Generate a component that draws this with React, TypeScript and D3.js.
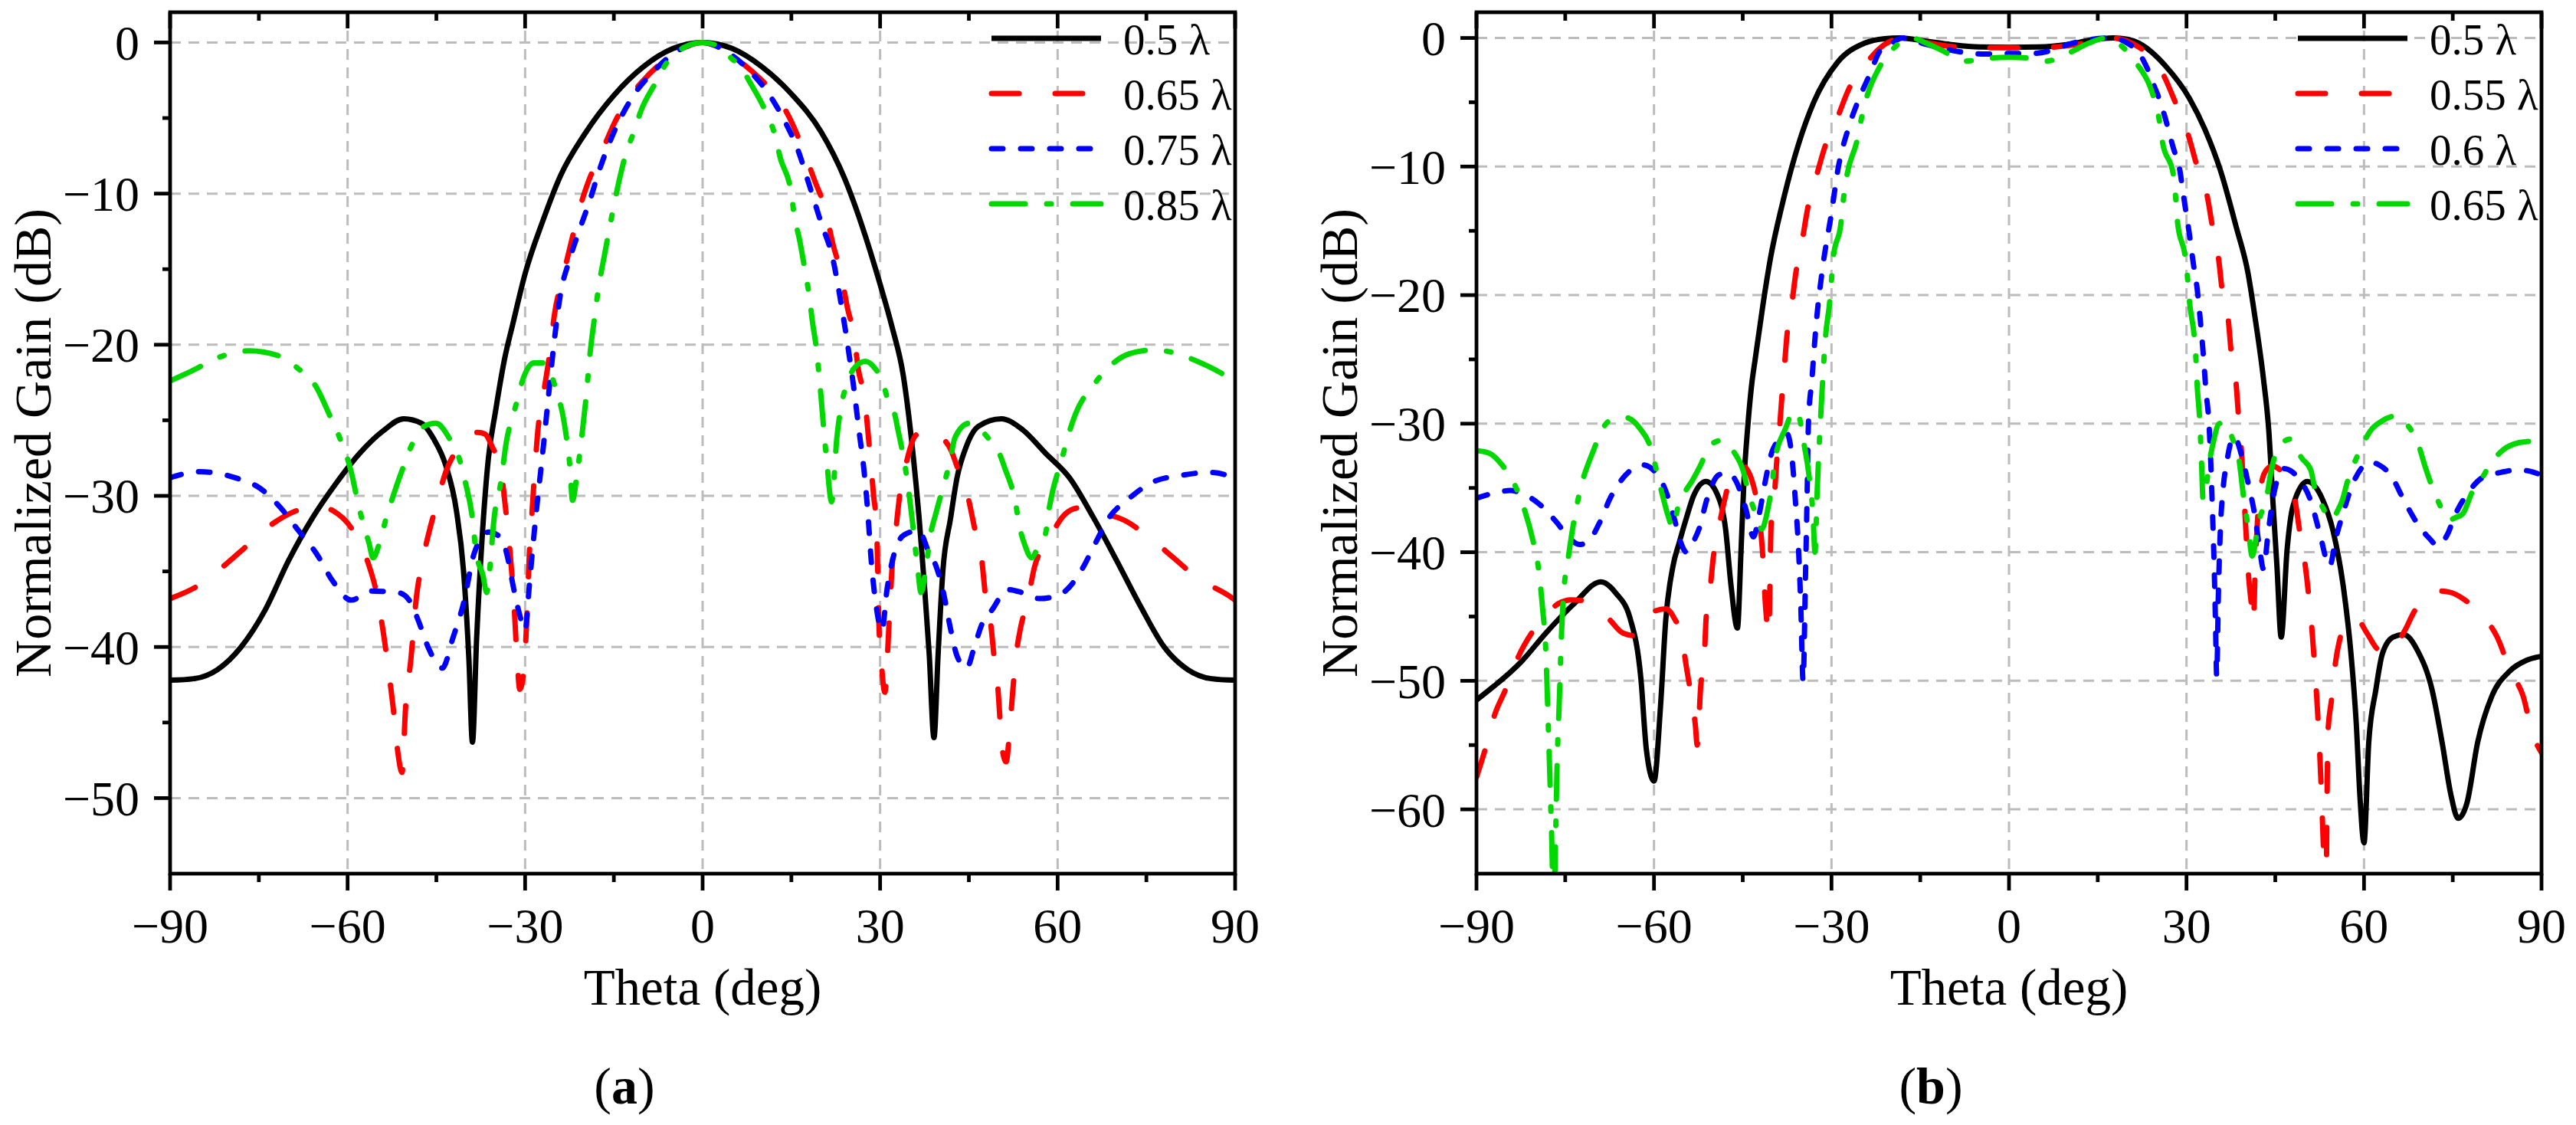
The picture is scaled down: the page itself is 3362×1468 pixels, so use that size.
import * as d3 from "d3";

type Pt = [number, number];

// ---------- panel (a) ----------
const labelsA = ["0.5 λ", "0.65 λ", "0.75 λ", "0.85 λ"];

const a050: Pt[] = [
  [-90,-42.2],[-86,-42.1],[-82,-41.5],[-78,-40.0],[-74,-37.6],[-70,-34.3],[-66,-31.5],[-62,-29.2],[-58,-27.2],
  [-54,-25.7],[-50.5,-24.9],[-47.5,-25.2],[-45.5,-26.2],[-43.4,-28],[-41.6,-31],[-40.4,-35],[-39.5,-40.8],
  [-38.9,-46.3],[-38.2,-39.5],[-37.3,-33],[-36.2,-27.5],[-35,-24.4],[-33.5,-21],[-32,-18.5],[-30,-15.3],
  [-27,-11.8],[-24,-8.8],[-20,-6.1],[-15,-3.5],[-10,-1.6],[-5,-0.4],[0,0],[5,-0.4],[10,-1.6],[15,-3.4],
  [20,-5.9],[24,-9],[27,-12.2],[30,-16],[32,-18.8],[33.9,-22],[35.5,-27],[36.6,-31.5],[37.5,-36],[38.3,-40.5],
  [39.1,-46],[39.8,-40.5],[40.6,-35],[41.9,-31.5],[43,-28.8],[44.5,-26.8],[46.6,-25.4],[50.5,-24.9],[54,-25.6],
  [58,-27.2],[62,-28.8],[66,-31.4],[70,-34.3],[74,-37.3],[78,-40],[82,-41.5],[86,-42.1],[90,-42.2],
];

const a065: Pt[] = [
  [-90,-36.8],[-85.5,-36],[-80.8,-34.6],[-77,-33.3],[-72.5,-31.8],[-68,-30.9],[-65,-30.7],[-62.4,-31],
  [-59.1,-32.3],[-56.4,-34.6],[-55.3,-36.1],[-54.1,-38.7],[-53.2,-41.2],[-52.3,-44],[-51.5,-47],[-50.8,-48.3],
  [-50.2,-44],[-49.3,-40.8],[-48.4,-36.8],[-47.5,-34.6],[-46.3,-32.5],[-45,-30.6],[-43.4,-28.4],[-41.6,-27],
  [-39.5,-26],[-38,-25.8],[-36.8,-25.9],[-35.5,-26.8],[-34.1,-28.2],[-33.4,-30.5],[-32.6,-33.5],[-31.9,-37],
  [-31.4,-40.5],[-30.9,-42.8],[-30.2,-41.5],[-29.7,-38],[-29.3,-34],[-28.9,-31.5],[-28.4,-28.5],[-27.8,-25.5],
  [-27,-23.5],[-26,-21],[-25,-17.9],[-23.6,-15.5],[-22.2,-13.2],[-20.8,-11],[-19.3,-9.2],[-17,-7.2],[-15,-5.4],
  [-12.5,-3.7],[-10,-2.5],[-5,-0.8],[0,0],[5,-0.9],[10,-2.5],[12.2,-3.4],[15.2,-5.4],[17.1,-7.2],[19,-9.2],
  [20.7,-11],[22,-13.3],[23.4,-15.3],[24.5,-17.6],[25.6,-19.4],[26.3,-21.6],[27.4,-23.6],[28,-26],[28.4,-27.7],
  [28.9,-30],[29.4,-32],[29.6,-35],[29.8,-38.5],[30.2,-41],[30.8,-43],[31.5,-38.5],[32.1,-34.3],[32.6,-32.5],
  [33.3,-30],[34.1,-28.4],[36,-26],[38,-25.6],[40,-26],[42,-27],[43.3,-28.4],[44.8,-30],[46,-32.2],[47.2,-34.3],
  [47.8,-36.6],[48.7,-38.5],[49.3,-40.8],[49.9,-42.7],[50.3,-45],[50.7,-46.9],[51.3,-47.6],[51.9,-45.5],
  [52.4,-43],[53,-40.5],[53.7,-38.8],[54.9,-37],[56.1,-34.7],[58.2,-33.1],[61.3,-31.2],[63.5,-30.8],[65.5,-31],
  [68,-31.2],[71.2,-31.6],[75,-32.6],[79.6,-34.1],[83.5,-35.4],[88.9,-36.6],[90,-36.9],
];

const a075: Pt[] = [
  [-90,-28.8],[-85,-28.4],[-79,-28.8],[-74.8,-29.5],[-71.3,-30.8],[-68.3,-32.3],[-65.3,-33.8],[-62.4,-35.7],
  [-59.4,-36.9],[-56,-36.3],[-51.5,-36.4],[-49.6,-36.9],[-48.1,-38.2],[-46.3,-40.1],[-44,-41.4],[-42.2,-39.4],
  [-40.4,-37.1],[-38.6,-33.8],[-36.2,-32.4],[-34,-32.8],[-33,-34],[-32,-36],[-30.9,-37.9],[-30,-38.9],
  [-29.3,-36],[-28.7,-33.4],[-28.1,-31],[-27.4,-28.5],[-26.8,-26.3],[-26,-23.2],[-25,-19.5],[-24,-16.6],
  [-22.6,-14.5],[-21,-12.6],[-19.1,-10.5],[-17.5,-8.5],[-15.5,-6.4],[-12,-3.7],[-8,-1.8],[-4,-0.5],[0,0],
  [4,-0.6],[8,-1.9],[12,-3.9],[14,-5.3],[16,-7],[18,-9.4],[20,-11.9],[22,-14.3],[23.5,-17.5],[24.7,-20.5],
  [25.6,-23],[26.4,-25.6],[27.3,-28.4],[27.9,-31],[28.5,-34.3],[29.3,-37.2],[30.3,-38.9],[31.2,-36.1],
  [32.4,-33.8],[34,-32.6],[36.5,-32.3],[38.3,-33.8],[39.5,-34.7],[40.7,-36.4],[41.9,-38.8],[43,-40.6],
  [44.6,-41.4],[46,-39.9],[47.2,-38.5],[49,-37.5],[51.5,-36.2],[54,-36.4],[57,-36.8],[60.5,-36.5],[63.9,-35],
  [66.3,-33.2],[68.6,-31.5],[72,-30.2],[76,-29.1],[80.8,-28.65],[85.8,-28.45],[90,-28.8],
];

const a085: Pt[] = [
  [-90,-22.4],[-86.7,-21.8],[-80.8,-20.7],[-76.6,-20.4],[-71.9,-20.7],[-68.3,-21.6],[-65.3,-22.8],[-63,-24.7],
  [-61.2,-26.3],[-59.4,-28.4],[-58.5,-30],[-57.6,-31.5],[-56.4,-33.1],[-55.7,-34.1],[-54.6,-33.1],[-53.5,-31.5],
  [-52.3,-30],[-50.5,-28],[-49,-26.5],[-47.5,-25.5],[-45.1,-25.2],[-42.8,-26.2],[-41,-27.7],[-40.1,-29.1],
  [-38.9,-31.5],[-38.3,-33.7],[-37.1,-35.3],[-36.5,-36.4],[-35.9,-34.5],[-35.3,-31.7],[-34.1,-29.1],
  [-33.2,-26.5],[-31.7,-24.2],[-30.2,-22.1],[-28.5,-21.2],[-26.7,-21.2],[-24.9,-22.8],[-23.3,-25.4],
  [-22.4,-28.2],[-22,-30.3],[-21.2,-28.5],[-20.4,-26],[-19.7,-23.5],[-19,-20.5],[-18.2,-18],[-17.5,-16],
  [-16.7,-14.3],[-15.5,-11.8],[-14.2,-9.3],[-13,-7.4],[-11.5,-5.8],[-10.5,-4.6],[-8,-2.7],[-6,-1.3],[-3,-0.3],
  [0,0],[3,-0.3],[5,-1.1],[6.3,-1.5],[7.8,-2.5],[10.8,-4.7],[12.2,-6.1],[13.1,-7.6],[15,-10],[15.5,-11.5],
  [16.3,-12.9],[17.4,-15.3],[18,-16.7],[18.5,-18.3],[19.3,-20.5],[19.8,-22.5],[20.5,-25.7],[21,-27.8],
  [21.8,-30.4],[22.7,-26.1],[23.4,-24.1],[24.5,-22.5],[25.5,-21.6],[27.5,-21.1],[29.2,-21.6],[30.4,-22.4],
  [31.5,-23.9],[32.4,-24.5],[33,-25.6],[34.2,-28],[34.8,-29.6],[35.4,-31.5],[35.9,-33.3],[36.4,-35],
  [36.9,-36.4],[37.9,-34.3],[38.5,-32.6],[39.4,-31.2],[41.8,-27.7],[42.7,-26.1],[45,-25.2],[46.6,-25.5],
  [49.3,-26.7],[49.9,-27],[51.1,-28.2],[52.9,-30.5],[53.5,-31.9],[54.5,-33.3],[55.6,-34.1],[57,-33.1],
  [57.9,-32.6],[58.5,-31],[60.9,-27.3],[61.8,-26],[63,-24.6],[66.2,-22.6],[68.6,-21.5],[72.1,-20.6],
  [76,-20.35],[78,-20.4],[81.7,-20.8],[85.3,-21.4],[90,-22.4],
];

// ---------- panel (b) ----------
const labelsB = ["0.5 λ", "0.55 λ", "0.6 λ", "0.65 λ"];

const b050: Pt[] = [
  [-90,-51.5],[-87,-50.4],[-84.2,-49.3],[-82.4,-48.5],[-78.3,-46.3],[-73.5,-44],[-69,-42.3],[-66.4,-43.2],
  [-64,-45.2],[-62.2,-49.9],[-61.3,-55.3],[-60,-57.8],[-58.9,-52],[-58,-45.2],[-56.8,-41.1],[-55.7,-39.2],
  [-54.5,-37.3],[-53.3,-35.6],[-51.2,-34.5],[-49.3,-35.5],[-47.9,-38.2],[-47,-42.5],[-45.9,-45.9],[-45.3,-40],
  [-44.8,-34.5],[-44.2,-30.5],[-43.5,-27],[-42.9,-25],[-41.6,-20.8],[-40.3,-17.1],[-38.3,-12.9],[-35.6,-8.3],
  [-33,-5],[-29,-1.9],[-24.4,-0.4],[-21,-0.05],[-18.5,0],[-14,-0.25],[-10,-0.5],[-5,-0.7],[0,-0.72],[5,-0.7],
  [10,-0.5],[14,-0.15],[17.6,0],[20,-0.1],[21.9,-0.4],[26.5,-2.2],[30.5,-4.7],[33.1,-7.1],[35.8,-10.4],
  [38.4,-14.7],[40.4,-18.3],[41.6,-21.8],[43,-26.5],[43.9,-30.5],[44.6,-36],[45.3,-41.2],[46,-46.6],[47,-39.8],
  [48,-36.4],[50.4,-34.5],[53,-35.9],[54.8,-38.4],[56.6,-43],[57.8,-47.9],[58.7,-53.4],[59.3,-58.9],[60,-62.6],
  [60.8,-54.8],[62,-50.7],[63.1,-47.9],[64.9,-46.6],[66.7,-46.4],[69.1,-47.7],[71.5,-50.7],[73.2,-54.8],
  [74.7,-58.9],[75.9,-60.7],[77.4,-59.5],[79.2,-54.8],[81.6,-51.2],[84.5,-49.3],[87.5,-48.4],[90,-48.1],
];

const b055: Pt[] = [
  [-90,-57.5],[-88.7,-55.6],[-86.9,-52.6],[-85.1,-50.7],[-83,-48.2],[-80.7,-46.3],[-78,-44.8],[-76.5,-44.1],
  [-74,-43.7],[-71.7,-43.8],[-69.5,-44.4],[-67.6,-45.2],[-65.2,-46.3],[-63.1,-46.5],[-61.5,-45.5],[-60,-44.6],
  [-58,-44.4],[-56.5,-45.2],[-55.4,-46.4],[-54.5,-49],[-53.6,-51.5],[-53,-53.5],[-52.7,-55],[-52.1,-50.4],
  [-51.5,-48.2],[-51.2,-45.2],[-50.5,-42.8],[-50,-40.5],[-49.1,-38.2],[-47.9,-35.6],[-46.8,-33.7],[-45,-33.3],
  [-43.2,-34.8],[-42.3,-37],[-41.7,-39.7],[-41.1,-44.5],[-40.6,-46.4],[-40.2,-37.8],[-39.6,-35.3],[-39.3,-33.2],
  [-38.8,-30.5],[-38.4,-28],[-38,-25.8],[-37.5,-23],[-36.8,-21],[-36,-18.2],[-35,-15.9],[-34,-13.2],
  [-32.7,-11],[-31,-8.3],[-29,-6.2],[-27,-3.9],[-25,-2.5],[-21,-0.5],[-17.8,0],[-14,-0.35],[-10,-0.65],
  [-5,-0.75],[0,-0.75],[5,-0.75],[10,-0.6],[14,-0.3],[17.3,0],[21.9,-0.7],[25.9,-2.7],[28.2,-5.1],[30.2,-7.4],
  [31.8,-10],[33.5,-12.3],[34.5,-15],[35.4,-17.1],[36.1,-19.9],[37.1,-22.1],[37.6,-24.7],[38.4,-27],
  [38.8,-29.5],[39.3,-32.2],[39.7,-35.5],[40,-38],[40.5,-41.9],[41,-44.2],[41.3,-45.5],[41.6,-41.5],[42,-37.5],
  [42.6,-34.8],[43.5,-33.6],[44.5,-33.3],[46.5,-34],[48.3,-35.9],[49.2,-38.6],[50,-40.8],[50.7,-43.6],
  [51.2,-46],[51.6,-48.5],[52.1,-52],[52.5,-55.5],[52.9,-60],[53.3,-66],[53.5,-72],[53.7,-62],[53.9,-54],
  [54.5,-51.5],[55.2,-48.5],[56,-46.6],[57.5,-45.2],[59,-45.3],[60.5,-46.3],[62.5,-47.6],[64.6,-47.8],
  [66,-46.8],[67,-46],[68.5,-44.6],[70,-43.8],[72,-43],[74.4,-43.1],[77,-43.7],[79.2,-44.6],[82.5,-46.6],
  [84.8,-49.3],[86.9,-51.2],[88.4,-54],[90,-55.6],
];

const b060: Pt[] = [
  [-90,-35.8],[-87,-35.4],[-84.3,-35.2],[-82,-35.5],[-79.8,-36.1],[-76.4,-37.7],[-74.5,-38.8],[-72.6,-39.4],
  [-71,-39.1],[-69.3,-37.8],[-67.3,-35.7],[-64.8,-34],[-62,-33.2],[-59.5,-33.9],[-57.8,-35.5],[-56.5,-37.5],
  [-55.5,-39.2],[-54.5,-40],[-53.5,-39.3],[-52.4,-38.2],[-51,-35.8],[-49.1,-34],[-47.5,-33.8],[-46,-34.6],
  [-44.5,-36.6],[-43.2,-38.8],[-42.2,-37],[-41.2,-34.5],[-39.9,-32],[-37.5,-30.8],[-36.6,-33],[-36.1,-36],
  [-35.6,-39.5],[-35.2,-44],[-34.8,-50],[-34.4,-42],[-34.1,-35],[-33.9,-30],[-33.3,-26.5],[-32.6,-22.3],
  [-31.6,-18.2],[-30,-13.6],[-28.9,-10.2],[-27.2,-7.1],[-25.5,-4.9],[-23.5,-2.8],[-21.8,-1],[-19.8,-0.4],
  [-18,0],[-14,-0.5],[-8,-1.1],[-4,-1.25],[0,-1.2],[4,-1.2],[7.3,-0.95],[10,-0.5],[14,-0.1],[17.5,0],
  [20,-0.4],[22,-1.2],[23.5,-2.5],[24.5,-3.7],[25.2,-4.5],[26.2,-5.9],[27.8,-8.6],[28.8,-10.1],[29.5,-12.3],
  [30.5,-15.3],[31.2,-17.7],[31.8,-19.5],[32.3,-21.8],[32.8,-24.4],[33.3,-27.5],[33.8,-30],[34.1,-33],
  [34.4,-37],[34.7,-41.5],[34.9,-45.5],[35.1,-49.6],[35.4,-43],[35.7,-38.5],[36.2,-35],[36.8,-33],[38,-31],
  [39.5,-32.8],[40.5,-34.8],[41.5,-37],[42.3,-39.5],[43,-41.3],[43.8,-38.5],[44.7,-35.6],[46.5,-33.5],
  [48,-33.8],[49.5,-34.6],[51,-36],[52.5,-38.5],[54.2,-41.1],[55.2,-39],[56.5,-36.9],[58,-34.8],[59.5,-33.5],
  [61,-33],[62.5,-33.2],[64.5,-34],[66.8,-36],[69.2,-37.9],[71,-38.9],[72.5,-39.5],[74,-38.7],[75.5,-37],
  [77.7,-35.3],[80,-34.2],[83,-33.8],[86,-33.6],[88,-33.7],[90,-34],
];

const b065: Pt[] = [
  [-90,-32.1],[-87.8,-32.3],[-85.7,-33.2],[-83.6,-34.7],[-82.1,-36.4],[-80.4,-39.2],[-79.6,-41],[-78.8,-44.5],
  [-78.3,-47.5],[-77.9,-53],[-77.5,-59],[-77.2,-64],[-77,-70],[-76.7,-64],[-76.4,-57],[-76,-51.5],[-75.6,-46],
  [-75.2,-42.8],[-74.6,-40.8],[-73.8,-38.3],[-72.5,-35.2],[-70.5,-32.4],[-67.6,-29.8],[-65,-29.5],[-62.5,-30.3],
  [-60.4,-32.1],[-59.5,-33.8],[-58.6,-35.5],[-57.6,-37.2],[-56.8,-38.1],[-55.9,-36.4],[-55,-35.5],[-53.5,-34.4],
  [-52.1,-33.2],[-50.6,-31.7],[-48.5,-31.3],[-46.5,-32.2],[-44.9,-33.7],[-44,-35.4],[-43,-36.8],[-41.8,-38.2],
  [-40.7,-36.5],[-40,-34.6],[-39.6,-32.9],[-37.8,-30.4],[-36.3,-29],[-35.4,-29.6],[-34.8,-31.2],[-33.9,-33.7],
  [-33.1,-37.3],[-32.8,-40],[-32.4,-35],[-32,-31],[-31.6,-27.5],[-31,-23.2],[-30.3,-20.5],[-30,-18.8],
  [-29.7,-17.1],[-28.4,-14.4],[-28,-12.6],[-27.4,-10.7],[-25.7,-8],[-25,-6.4],[-24.1,-4.7],[-21.8,-2.2],
  [-19.5,-0.8],[-16.5,0],[-14,-0.4],[-11.2,-1],[-7.5,-1.8],[-3,-1.55],[0,-1.5],[3,-1.55],[6.3,-1.8],[10,-1.2],
  [13.5,-0.4],[16.5,0],[19.2,-0.7],[21.6,-2],[24.5,-4.7],[25.4,-6.4],[25.9,-8],[27.8,-10.7],[28.2,-12.6],
  [28.5,-14.4],[29.8,-17.1],[30.2,-18.8],[30.5,-20.5],[31.3,-23.2],[31.6,-25],[31.8,-27],[32.2,-29.5],
  [32.5,-32.5],[32.8,-35.9],[33.3,-35],[33.8,-33.2],[34.6,-31.3],[35.5,-30],[36.5,-29.9],[37.8,-31.2],
  [38.8,-32.6],[39.7,-35.9],[40.4,-38],[41.1,-40.3],[41.8,-38.8],[42.3,-37.5],[43.5,-35.9],[44.1,-34.2],
  [45,-32.4],[46.2,-31.5],[47.5,-31.2],[49.5,-32.7],[51,-33.6],[51.8,-35.3],[53,-36.5],[54.5,-37.5],
  [55.5,-36.8],[56.3,-36],[57.2,-34.5],[59.3,-32.1],[61,-30.6],[63,-29.8],[65.5,-29.4],[67.5,-30.2],
  [69.1,-31.5],[70.3,-33.3],[71.5,-34.9],[73,-36.5],[74.2,-37.5],[75.5,-37.3],[76.7,-37],[78.3,-35.3],
  [80,-34.2],[81,-33.4],[83.6,-32],[86,-31.5],[87.5,-31.4],[90,-31.2],
];

// ---------- axes ----------
const xMajor = [-90, -60, -30, 0, 30, 60, 90];
const xMinor = [-75, -45, -15, 15, 45, 75];
const yMajorA = [0, -10, -20, -30, -40, -50];
const yMajorB = [0, -10, -20, -30, -40, -50, -60];

// solid, dash, short dash, dash-dot (round caps add the line width to each dash)
const strokes = [
  { color: "#000000", dash: undefined as string | undefined },
  { color: "#ff0000", dash: "36 47" },
  { color: "#0000ff", dash: "15 23" },
  { color: "#00d800", dash: "44 28 6 28" },
];

const FONT = "'Liberation Serif', 'Times New Roman', serif";
const TOP = 16, BOTTOM = 1140, WIDTH = 1390;
const LW = 7;
const fmt = (v: number) => (v < 0 ? "\u2212" + Math.abs(v) : String(v));

interface PanelProps {
  id: string;
  left: number;
  series: Pt[][];
  labels: string[];
  yMin: number;
  yMajor: number[];
  tag: string;
}

function Panel({ id, left, series, labels, yMin, yMajor, tag }: PanelProps) {
  const x = d3.scaleLinear().domain([-90, 90]).range([left, left + WIDTH]);
  const y = d3.scaleLinear().domain([yMin, 2]).range([BOTTOM, TOP]);
  const line = d3.line<Pt>().x(d => x(d[0])).y(d => y(d[1])).curve(d3.curveMonotoneX);
  const yMinor = d3.range(-5, yMin, -10);
  const right = left + WIDTH;

  return (
    <g fontFamily={FONT}>
      <defs>
        <clipPath id={id}>
          <rect x={left} y={TOP} width={WIDTH} height={BOTTOM - TOP} />
        </clipPath>
      </defs>

      {/* grid */}
      <g stroke="#bcbcbc" strokeWidth={3} strokeDasharray="14 10">
        {xMajor.slice(1, -1).map(t => (
          <line key={"gx" + t} x1={x(t)} x2={x(t)} y1={TOP} y2={BOTTOM} />
        ))}
        {yMajor.map(t => (
          <line key={"gy" + t} x1={left} x2={right} y1={y(t)} y2={y(t)} />
        ))}
      </g>

      {/* curves */}
      <g clipPath={`url(#${id})`} fill="none" strokeWidth={LW} strokeLinejoin="round">
        {series.map((s, i) => (
          <path
            key={i}
            d={line(s) ?? ""}
            stroke={strokes[i].color}
            strokeDasharray={strokes[i].dash}
            strokeLinecap={strokes[i].dash ? "round" : "butt"}
          />
        ))}
      </g>

      {/* frame and ticks */}
      <g stroke="#000" strokeWidth={4.8}>
        <rect x={left} y={TOP} width={WIDTH} height={BOTTOM - TOP} fill="none" />
        {xMajor.map(t => (
          <g key={"xt" + t}>
            <line x1={x(t)} x2={x(t)} y1={BOTTOM} y2={BOTTOM + 22} />
            <line x1={x(t)} x2={x(t)} y1={TOP} y2={TOP + 21} />
          </g>
        ))}
        {xMinor.map(t => (
          <g key={"xm" + t}>
            <line x1={x(t)} x2={x(t)} y1={BOTTOM} y2={BOTTOM + 11} />
            <line x1={x(t)} x2={x(t)} y1={TOP} y2={TOP + 11} />
          </g>
        ))}
        {yMajor.map(t => (
          <line key={"yt" + t} x1={left - 21} x2={left} y1={y(t)} y2={y(t)} />
        ))}
        {yMinor.map(t => (
          <line key={"ym" + t} x1={left - 10} x2={left} y1={y(t)} y2={y(t)} />
        ))}
      </g>

      {/* tick labels */}
      <g fontSize={64} fill="#000">
        {xMajor.map(t => (
          <text key={"xl" + t} x={x(t)} y={1230} textAnchor="middle">{fmt(t)}</text>
        ))}
        {yMajor.map(t => (
          <text key={"yl" + t} x={left - 40} y={y(t)} dy="0.35em" textAnchor="end">{fmt(t)}</text>
        ))}
      </g>

      {/* axis titles */}
      <text x={x(0)} y={1311} fontSize={67} textAnchor="middle">Theta (deg)</text>
      <text
        transform={`translate(${left - 156},${(TOP + BOTTOM) / 2}) rotate(-90)`}
        fontSize={68}
        textAnchor="middle"
      >
        Normalized Gain (dB)
      </text>

      {/* legend */}
      {labels.map((lab, i) => {
        const ly = 50 + i * 72;
        return (
          <g key={"lg" + i}>
            <line
              x1={left + 1072}
              x2={left + 1215}
              y1={ly}
              y2={ly}
              stroke={strokes[i].color}
              strokeWidth={LW}
              strokeDasharray={strokes[i].dash}
              strokeLinecap={strokes[i].dash ? "round" : "butt"}
            />
            <text x={left + 1244} y={ly + 21} fontSize={57}>{lab}</text>
          </g>
        );
      })}

      {/* panel tag */}
      <text x={x(0) - 102} y={1440} fontSize={68} textAnchor="middle">
        (<tspan fontWeight="bold">{tag}</tspan>)
      </text>
    </g>
  );
}

export default function App() {
  return (
    <svg
      width={3362}
      height={1468}
      viewBox="0 0 3362 1468"
      style={{ position: "absolute", left: 0, top: 0, background: "#fff" }}
    >
      <rect width={3362} height={1468} fill="#fff" />
      <Panel id="clipA" left={222} series={[a050, a065, a075, a085]} labels={labelsA} yMin={-55} yMajor={yMajorA} tag="a" />
      <Panel id="clipB" left={1927} series={[b050, b055, b060, b065]} labels={labelsB} yMin={-65} yMajor={yMajorB} tag="b" />
    </svg>
  );
}
